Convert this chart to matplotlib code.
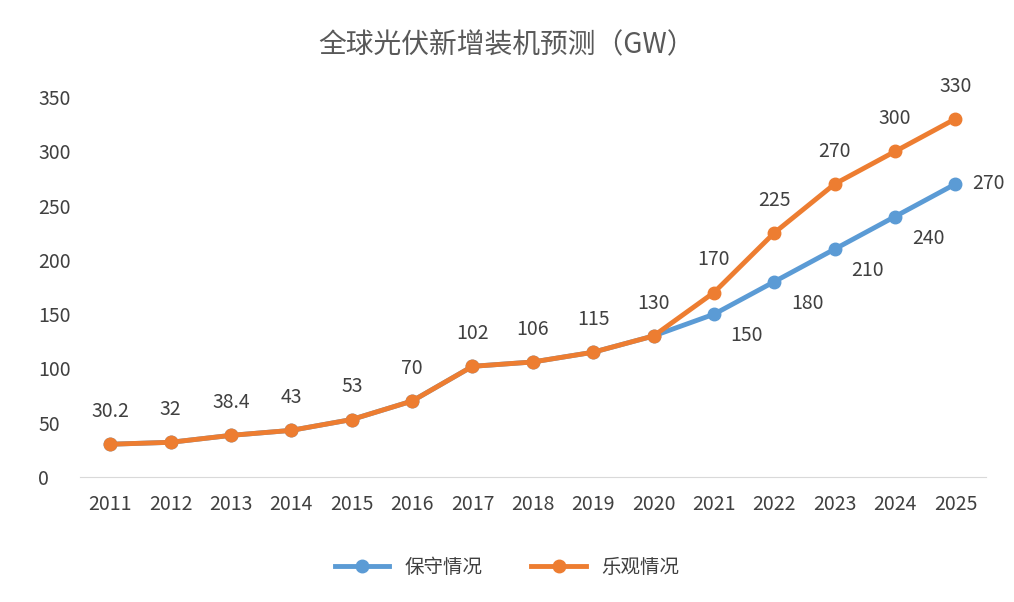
import matplotlib
matplotlib.use("Agg")
import matplotlib.pyplot as plt

plt.rcParams['font.family'] = ['Noto Sans CJK SC', 'DejaVu Sans']

years = [str(y) for y in range(2011, 2026)]
conservative = [30.2, 32, 38.4, 43, 53, 70, 102, 106, 115, 130, 150, 180, 210, 240, 270]
optimistic = [30.2, 32, 38.4, 43, 53, 70, 102, 106, 115, 130, 170, 225, 270, 300, 330]
yticks = [0, 50, 100, 150, 200, 250, 300, 350]

blue = '#5B9BD5'
orange = '#ED7D31'
tc = '#404040'

fig = plt.figure(figsize=(10.14, 6.02), dpi=100)
ax = fig.add_axes([0.079, 0.2076, 0.893, 0.631])
x = list(range(len(years)))
ax.plot(x, conservative, color=blue, lw=3.5, marker='o', ms=9, label='保守情况', zorder=2)
ax.plot(x, optimistic, color=orange, lw=3.5, marker='o', ms=9, label='乐观情况', zorder=3)

def fmt(v):
    return str(int(v)) if v == int(v) else str(v)

for i, v in enumerate(optimistic):
    ax.annotate(fmt(v), (i, v), xytext=(0, 16), textcoords='offset points',
                ha='center', va='bottom', fontsize=14, color=tc)
for i in range(10, 14):
    ax.annotate(fmt(conservative[i]), (i, conservative[i]), xytext=(12, -8),
                textcoords='offset points', ha='left', va='top', fontsize=14, color=tc)
ax.annotate(fmt(conservative[14]), (14, conservative[14]), xytext=(12, 0),
            textcoords='offset points', ha='left', va='center', fontsize=14, color=tc)

ax.set_xlim(-0.5, 14.5)
ax.set_ylim(0, 350)
ax.set_xticks(x)
ax.set_xticklabels(years)
ax.set_yticks(yticks)
ax.tick_params(axis='both', length=0, labelsize=14, colors=tc)
ax.tick_params(axis='x', pad=12)
ax.tick_params(axis='y', pad=30)
for lab in ax.get_yticklabels():
    lab.set_horizontalalignment('left')
for s in ['top', 'right', 'left']:
    ax.spines[s].set_visible(False)
ax.spines['bottom'].set_color('#D9D9D9')
ax.set_clip_on(False)

fig.text(0.5, 0.925, '全球光伏新增装机预测（GW）', ha='center', va='center', fontsize=20, color='#595959')
fig.legend(loc='center', bbox_to_anchor=(0.5, 0.058), ncol=2, frameon=False,
           fontsize=14, labelcolor=tc, handlelength=2.8, columnspacing=2.5)
fig.savefig('out.png', dpi=100)
